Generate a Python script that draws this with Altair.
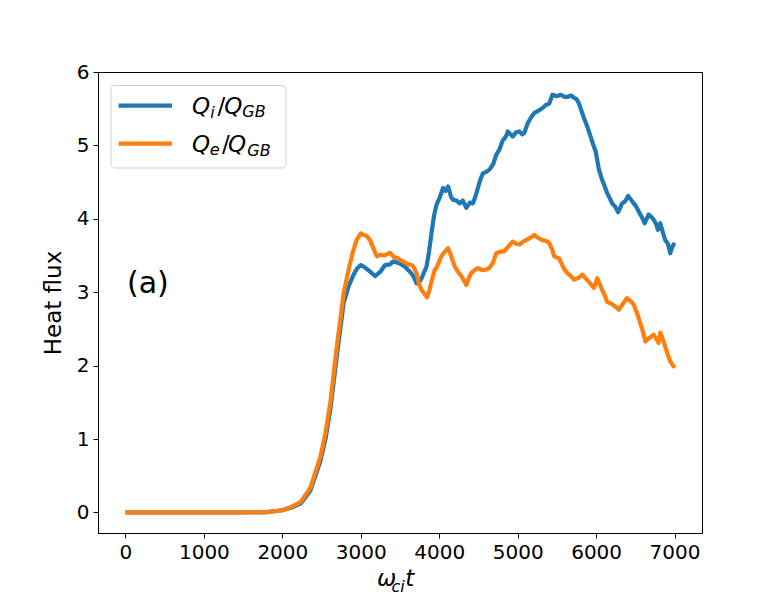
import altair as alt
import pandas as pd

# ---- data ----
t_i = [0, 500, 1000, 1500, 1800, 2000, 2100, 2232, 2359, 2485, 2550, 2612, 2697, 2781, 2845, 2900, 2950,
       3001, 3050, 3119, 3183, 3250, 3310, 3373, 3415, 3480, 3550, 3627, 3670, 3712, 3750, 3775, 3838,
       3870, 3902, 3935, 3965, 4010, 4049, 4080, 4113, 4150, 4176, 4220, 4261, 4300, 4346, 4390, 4430,
       4460, 4493, 4530, 4557, 4600, 4641, 4690, 4726, 4770, 4810, 4850, 4874, 4910, 4937, 4980, 5022,
       5060, 5085, 5127, 5170, 5212, 5260, 5317, 5360, 5402, 5444, 5500, 5550, 5600, 5634, 5680, 5719,
       5750, 5782, 5820, 5846, 5890, 5930, 5960, 5994, 6036, 6070, 6100, 6141, 6175, 6205, 6240, 6281,
       6332, 6370, 6408, 6445, 6480, 6510, 6543, 6580, 6619, 6645, 6670, 6700, 6733, 6765,
       6788, 6818, 6850, 6881, 6915, 6945, 6965, 6987, 7000]
q_i = [0.0, 0.0, 0.0, 0.0, 0.005, 0.03, 0.06, 0.12, 0.30, 0.70, 1.00, 1.40, 2.15, 2.85, 3.08, 3.22, 3.32,
       3.37, 3.34, 3.28, 3.22, 3.28, 3.37, 3.38, 3.42, 3.40, 3.36, 3.28, 3.22, 3.12, 3.15, 3.19, 3.35,
       3.55, 3.81, 4.05, 4.19, 4.30, 4.42, 4.38, 4.44, 4.30, 4.26, 4.25, 4.21, 4.25, 4.15, 4.22, 4.21,
       4.30, 4.42, 4.55, 4.62, 4.64, 4.67, 4.75, 4.87, 4.95, 5.07, 5.12, 5.19, 5.15, 5.12, 5.18, 5.19,
       5.15, 5.17, 5.30, 5.38, 5.44, 5.47, 5.51, 5.55, 5.57, 5.69, 5.67, 5.69, 5.66, 5.66, 5.68, 5.65,
       5.63, 5.57, 5.45, 5.37, 5.25, 5.12, 5.02, 4.92, 4.67, 4.55, 4.47, 4.35, 4.28, 4.21, 4.17, 4.09,
       4.21, 4.24, 4.31, 4.26, 4.21, 4.17, 4.10, 4.03, 3.94, 4.00, 4.06, 4.03, 3.99, 3.93,
       3.85, 3.94, 3.82, 3.71, 3.66, 3.53, 3.60, 3.65, 3.63]

t_e = [0, 500, 1000, 1500, 1800, 2000, 2100, 2232, 2359, 2485, 2550, 2612, 2697, 2781, 2845, 2900, 2950,
       3001, 3040, 3080, 3119, 3160, 3204, 3250, 3300, 3373, 3420, 3460, 3500, 3542, 3600, 3648, 3669,
       3712, 3740, 3775, 3810, 3846, 3880, 3910, 3944, 3965, 4000, 4028, 4070, 4113, 4150, 4197, 4240,
       4282, 4320, 4346, 4380, 4409, 4450, 4493, 4550, 4599, 4640, 4684, 4726, 4780, 4831, 4880, 4937,
       4980, 5022, 5060, 5106, 5160, 5212, 5260, 5317, 5360, 5402, 5440, 5465, 5529, 5590, 5634,
       5680, 5719, 5780, 5825, 5900, 5973, 6015, 6050, 6078, 6110, 6141, 6200, 6250, 6290, 6340, 6395,
       6440, 6480, 6520, 6564, 6600, 6628, 6680, 6733, 6770, 6797, 6818, 6850, 6881, 6915, 6945, 6987, 7000]
q_e = [0.0, 0.0, 0.0, 0.0, 0.005, 0.03, 0.07, 0.14, 0.34, 0.76, 1.08, 1.50, 2.28, 2.98, 3.31, 3.55, 3.72,
       3.80, 3.78, 3.76, 3.71, 3.60, 3.49, 3.51, 3.50, 3.54, 3.48, 3.47, 3.44, 3.42, 3.38, 3.37, 3.35,
       3.26, 3.12, 3.03, 2.98, 2.93, 3.05, 3.18, 3.31, 3.33, 3.42, 3.49, 3.55, 3.60, 3.50, 3.35, 3.28,
       3.22, 3.15, 3.10, 3.20, 3.26, 3.30, 3.33, 3.30, 3.31, 3.33, 3.40, 3.53, 3.55, 3.56, 3.62, 3.69,
       3.66, 3.65, 3.68, 3.71, 3.74, 3.78, 3.74, 3.71, 3.70, 3.67, 3.58, 3.49, 3.46, 3.32, 3.26,
       3.22, 3.17, 3.20, 3.24, 3.15, 3.06, 3.19, 3.10, 3.03, 2.96, 2.87, 2.84, 2.80, 2.76, 2.84, 2.92,
       2.88, 2.83, 2.72, 2.58, 2.45, 2.33, 2.38, 2.42, 2.36, 2.31, 2.45, 2.36, 2.26, 2.15, 2.06, 1.99, 2.01]

x_ticks = [0, 1000, 2000, 3000, 4000, 5000, 6000, 7000]
y_ticks = [0, 1, 2, 3, 4, 5, 6]

BLUE = "#1f77b4"
ORANGE = "#ff7f0e"
FONT = "DejaVu Sans"

W, H = 604, 461

df_i = pd.DataFrame({"t": t_i, "q": q_i})
df_e = pd.DataFrame({"t": t_e, "q": q_e})
one = pd.DataFrame({"a": [0]})

xscale = alt.Scale(domain=[-350, 7350], nice=False, zero=False)
yscale = alt.Scale(domain=[-0.28, 6.0], nice=False, zero=False)

xenc = alt.X("t:Q", scale=xscale,
             axis=alt.Axis(values=x_ticks, title=None, grid=False, format="d"))
yenc = alt.Y("q:Q", scale=yscale,
             axis=alt.Axis(values=y_ticks, title="Heat flux", grid=False, format="d"))

LW = 4.2
line_i = alt.Chart(df_i).mark_line(color=BLUE, strokeWidth=LW, strokeJoin="round").encode(x=xenc, y=yenc)
line_e = alt.Chart(df_e).mark_line(color=ORANGE, strokeWidth=LW, strokeJoin="round").encode(x=xenc, y=yenc)


def txt(s, x, y, size, italic=True, align="left", baseline="alphabetic"):
    kw = dict(text=s, font=FONT, fontSize=size, color="black", align=align, baseline=baseline)
    if italic:
        kw["fontStyle"] = "italic"
    return alt.Chart(one).mark_text(**kw).encode(x=alt.value(x), y=alt.value(y))


# legend
legend_box = alt.Chart(one).mark_rect(
    fill="white", stroke="#cccccc", strokeWidth=1, cornerRadius=4, opacity=0.9
).encode(x=alt.value(13), x2=alt.value(188), y=alt.value(13.4), y2=alt.value(96))
leg_blue = alt.Chart(one).mark_rule(color=BLUE, strokeWidth=LW).encode(
    x=alt.value(20.6), x2=alt.value(74), y=alt.value(33.7))
leg_orange = alt.Chart(one).mark_rule(color=ORANGE, strokeWidth=LW).encode(
    x=alt.value(20.6), x2=alt.value(74), y=alt.value(71.7))

MS, SS = 23, 16
leg_text = [
    txt("Q", 94, 41.7, MS), txt("i", 112.2, 46, SS), txt("/", 119.6, 41.7, MS, italic=False),
    txt("Q", 126.3, 41.7, MS), txt("GB", 144.3, 45.4, SS),
    txt("Q", 94, 80.4, MS), txt("e", 111.8, 82.7, SS), txt("/", 124, 80.4, MS, italic=False),
    txt("Q", 130, 80.4, MS), txt("GB", 149.3, 83.7, SS),
]

# x axis title  ω_ci t
xtitle = [txt("ω", 279, 514.4, MS), txt("ci", 293.5, 519.5, SS), txt("t", 307.3, 514.4, MS)]

# panel label
panel = txt("(a)", 29, 221, 30, italic=False)

chart = alt.layer(
    line_i, line_e, legend_box, leg_blue, leg_orange, *leg_text, *xtitle, panel
).properties(
    width=W, height=H,
    autosize=alt.AutoSizeParams(type="none"),
    padding={"left": 90, "top": 64, "right": 70, "bottom": 59},
).configure_view(
    stroke="black", strokeWidth=1
).configure_axis(
    labelFont=FONT, labelFontSize=20, labelColor="black",
    titleFont=FONT, titleFontSize=23, titleFontWeight="normal", titleColor="black",
    domainColor="black", domainWidth=1, tickColor="black", tickWidth=1, tickSize=5,
    labelPadding=4, titlePadding=11,
)

chart.save("out.html", embed_options={"renderer": "svg", "actions": False})
